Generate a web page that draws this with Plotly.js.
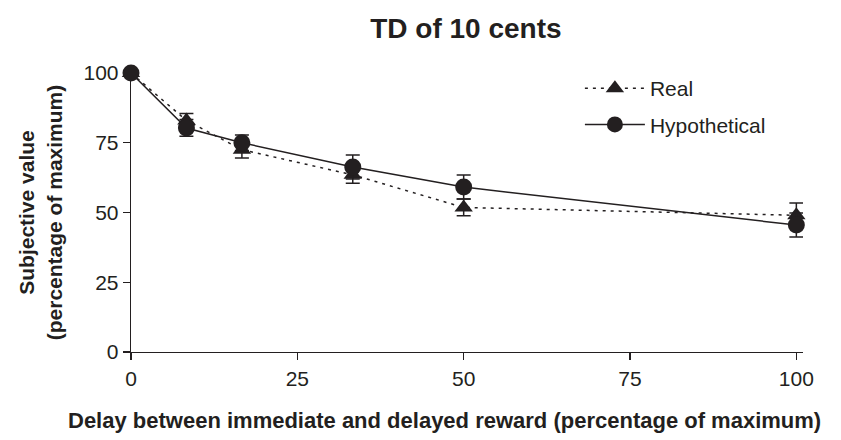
<!DOCTYPE html>
<html>
<head>
<meta charset="utf-8">
<script src="https://cdn.plot.ly/plotly-3.0.1.min.js"></script>
<style>html,body{margin:0;padding:0;background:#fff;}#chart{width:841px;height:440px;}</style>
</head>
<body>
<div id="chart"></div>
<script>
var delays = [0, 8.33, 16.67, 33.33, 50, 100];
var realValues = [100, 83, 72.5, 63.5, 51.8, 49];
var realErrors = [0, 2.5, 3, 3, 3, 4.4];
var hypoValues = [100, 80.3, 75, 66.3, 59.1, 45.5];
var hypoErrors = [0, 3, 2.8, 4.3, 4.3, 4.3];
var xTicks = [0, 25, 50, 75, 100];
var yTicks = [0, 25, 50, 75, 100];
var xTitle = '<b>Delay between immediate and delayed reward (percentage of maximum)</b>';
var yTitle = '<b>Subjective value<br>(percentage of maximum)</b>';
var chartTitle = '<b>TD of 10 cents</b>';

var ink = '#231f20';
var traces = [
  {
    x: delays, y: realValues, name: 'Real', type: 'scatter', mode: 'lines+markers',
    legendgroup: 'real',
    line: {color: ink, width: 1.5, dash: '3px,5px'},
    marker: {symbol: 'triangle-up', size: 16, color: ink},
    error_y: {type: 'data', array: realErrors, visible: true, color: ink, thickness: 1.5, width: 7},
    cliponaxis: false
  },
  {
    x: delays, y: hypoValues, name: 'Hypothetical', type: 'scatter', mode: 'lines+markers',
    legendgroup: 'hypo',
    line: {color: ink, width: 1.5},
    marker: {symbol: 'circle', size: 17, color: ink},
    error_y: {type: 'data', array: hypoErrors, visible: true, color: ink, thickness: 1.5, width: 7},
    cliponaxis: false
  }
];

var layout = {
  width: 841, height: 440,
  margin: {l: 131, r: 38, t: 73, b: 88},
  paper_bgcolor: '#fff', plot_bgcolor: '#fff',
  font: {family: 'Liberation Sans, Arial, sans-serif', color: ink, size: 21},
  title: {text: chartTitle, x: 0.554, xanchor: 'center', y: 0.936, yanchor: 'middle',
          font: {size: 28, color: ink}},
  xaxis: {
    range: [0, 101], tickvals: xTicks, ticktext: xTicks.map(String),
    showgrid: false, zeroline: false, showline: true, linecolor: ink, linewidth: 1.3,
    ticks: 'outside', ticklen: 7, tickcolor: ink, tickwidth: 1.3,
    tickfont: {size: 21, color: ink}
  },
  yaxis: {
    range: [0, 100], tickvals: yTicks, ticktext: yTicks.map(String),
    showgrid: false, zeroline: false, showline: true, linecolor: ink, linewidth: 1.3,
    ticks: 'outside', ticklen: 7, tickcolor: ink, tickwidth: 1.3,
    tickfont: {size: 21, color: ink},
    title: {text: yTitle, font: {size: 21, color: ink}, standoff: 15}
  },
  annotations: [{
    text: xTitle, xref: 'paper', yref: 'paper', x: 0.466, y: -0.245,
    xanchor: 'center', yanchor: 'middle', showarrow: false,
    font: {size: 22, color: ink}
  }],
  legend: {
    x: 0.668, y: 1.018, xanchor: 'left', yanchor: 'top',
    bgcolor: 'rgba(0,0,0,0)', font: {size: 21, color: ink},
    tracegroupgap: 6, itemwidth: 60
  },
  showlegend: true
};

Plotly.newPlot('chart', traces, layout, {displayModeBar: false, staticPlot: true});
</script>
</body>
</html>
